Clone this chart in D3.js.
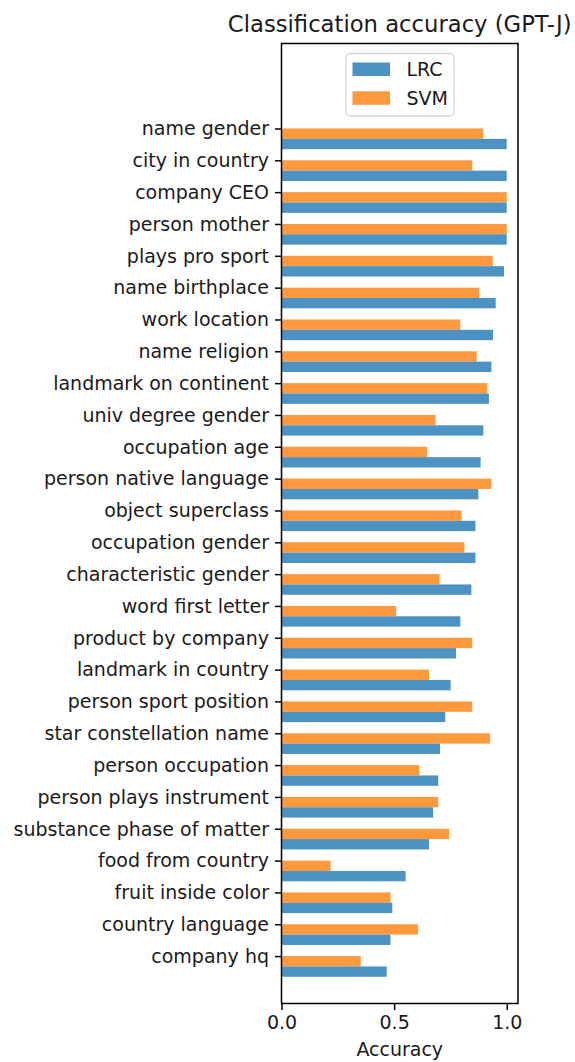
<!DOCTYPE html>
<html><head><meta charset="utf-8">
<script src="https://cdn.jsdelivr.net/npm/d3@7"></script>
<style>html,body{margin:0;padding:0;background:#fff;}svg{display:block;font-family:"DejaVu Sans",sans-serif;}</style>
</head><body><div id="chart"></div>
<script>
const categories = ["name gender","city in country","company CEO","person mother","plays pro sport","name birthplace","work location","name religion","landmark on continent","univ degree gender","occupation age","person native language","object superclass","occupation gender","characteristic gender","word first letter","product by company","landmark in country","person sport position","star constellation name","person occupation","person plays instrument","substance phase of matter","food from country","fruit inside color","country language","company hq"];
const lrcValues = [1.0,1.0,1.0,1.0,0.988,0.951,0.939,0.932,0.921,0.896,0.884,0.874,0.861,0.861,0.843,0.794,0.775,0.751,0.727,0.704,0.696,0.673,0.655,0.551,0.492,0.484,0.467];
const svmValues = [0.896,0.847,1.0,1.0,0.938,0.878,0.794,0.867,0.914,0.684,0.647,0.932,0.800,0.812,0.702,0.509,0.847,0.655,0.847,0.926,0.612,0.696,0.745,0.218,0.484,0.606,0.352];
const seriesNames = ["LRC","SVM"];
const seriesColors = ["#4c92c3","#ff993e"];
const xTicks = [0.0,0.5,1.0];
const titleText = "Classification accuracy (GPT-J)";
const xLabel = "Accuracy";

const W = 575, H = 1062;
const m = {left:281.5, top:43.5, right:57, bottom:58.5};
const iw = W - m.left - m.right, ih = H - m.top - m.bottom;
const barH = 0.325;
const fs = "19px";

const svg = d3.select("#chart").append("svg").attr("width", W).attr("height", H);
const g = svg.append("g").attr("transform", `translate(${m.left},${m.top})`);

const x = d3.scaleLinear().domain([0, 1.05]).range([0, iw]);
const y = d3.scaleLinear().domain([-2.67, 27.49]).range([0, ih]);

const idx = d3.range(categories.length);
g.selectAll("rect.svm").data(idx).join("rect").attr("class","svm")
  .attr("x", x(0)).attr("y", i => y(i)).attr("width", i => x(svmValues[i]) - x(0))
  .attr("height", y(barH) - y(0)).attr("fill", seriesColors[1]);
g.selectAll("rect.lrc").data(idx).join("rect").attr("class","lrc")
  .attr("x", x(0)).attr("y", i => y(i + barH)).attr("width", i => x(lrcValues[i]) - x(0))
  .attr("height", y(barH) - y(0)).attr("fill", seriesColors[0]);

const yAxis = d3.axisLeft(y).tickValues(idx).tickFormat(i => categories[i]).tickSize(6.5).tickPadding(6);
const ya = g.append("g").call(yAxis);
ya.select(".domain").remove();
ya.selectAll("line").attr("stroke","#000").attr("stroke-width",1.5);
ya.selectAll("text").attr("font-size",fs).attr("fill","#1a1a1a").attr("font-family","DejaVu Sans").attr("dy","0.33em");

const xAxis = d3.axisBottom(x).tickValues(xTicks).tickFormat(d3.format(".1f")).tickSize(6.5).tickPadding(6);
const xa = g.append("g").attr("transform", `translate(0,${ih})`).call(xAxis);
xa.select(".domain").remove();
xa.selectAll("line").attr("stroke","#000").attr("stroke-width",1.5);
xa.selectAll("text").attr("font-size",fs).attr("fill","#1a1a1a").attr("font-family","DejaVu Sans");

g.append("rect").attr("x",0).attr("y",0).attr("width",iw).attr("height",ih)
  .attr("fill","none").attr("stroke","#000").attr("stroke-width",1.5);

svg.append("text").attr("x", m.left + iw/2).attr("y", 32).attr("text-anchor","middle")
  .attr("font-size","22.7px").attr("fill","#1a1a1a").text(titleText);
svg.append("text").attr("x", m.left + iw/2).attr("y", 1056).attr("text-anchor","middle")
  .attr("font-size",fs).attr("fill","#1a1a1a").text(xLabel);

const lg = svg.append("g").attr("transform","translate(346,53.5)");
lg.append("rect").attr("x",0).attr("y",0).attr("width",108).attr("height",62.5).attr("rx",4)
  .attr("fill","#fff").attr("fill-opacity",0.8).attr("stroke","#d5d5d5").attr("stroke-width",1.3);
seriesNames.forEach((s,k) => {
  lg.append("rect").attr("x",6.5).attr("y",9 + k*28.8).attr("width",37.5).attr("height",13.5).attr("fill",seriesColors[k]);
  lg.append("text").attr("x",60.5).attr("y",22.5 + k*28.8).attr("font-size",fs).attr("fill","#1a1a1a").text(s);
});
</script></body></html>
